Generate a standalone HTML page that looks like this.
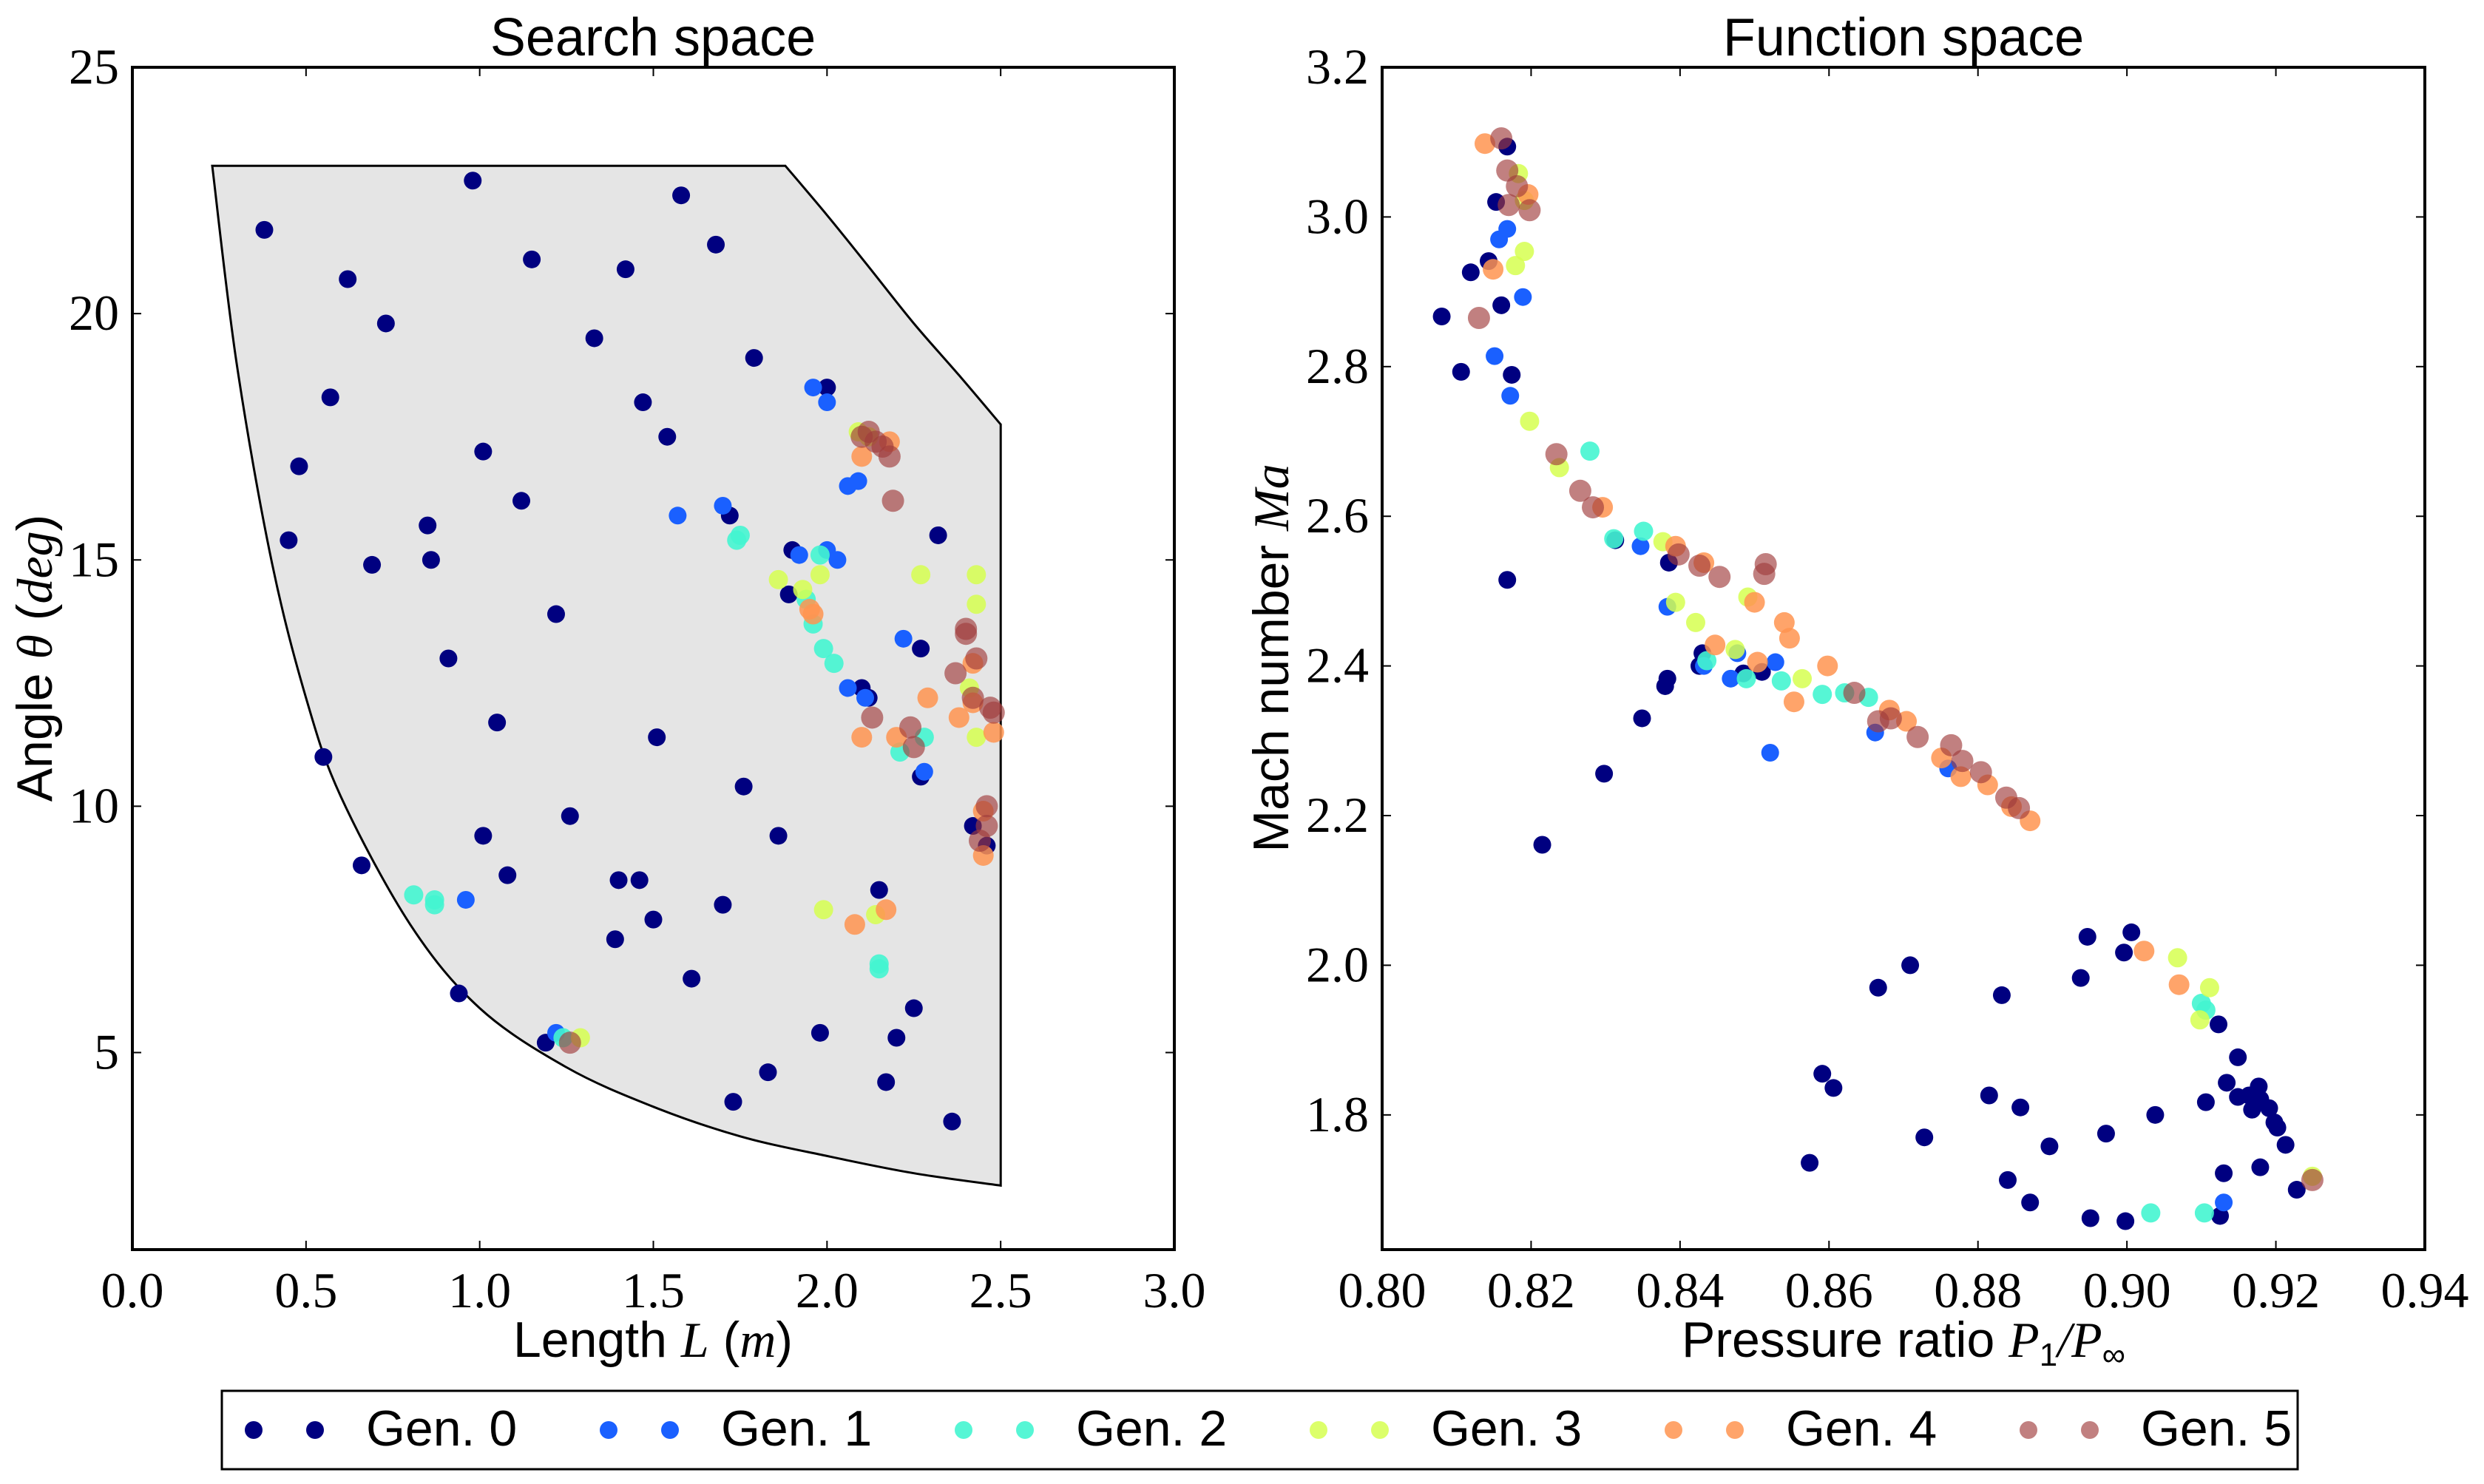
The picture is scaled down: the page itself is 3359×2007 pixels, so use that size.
<!DOCTYPE html>
<html><head><meta charset="utf-8"><style>
html,body{margin:0;padding:0;background:#fff;}
svg{display:block;}
.tk{font-family:"Liberation Serif",serif;font-size:68px;fill:#000;}
.lb{font-family:"Liberation Sans",sans-serif;font-size:68px;fill:#000;}
.ti{font-family:"Liberation Sans",sans-serif;font-size:72px;fill:#000;}
.mi{font-family:"Liberation Serif",serif;font-style:italic;}
</style></head><body>
<svg id="chart" width="3359" height="2007" viewBox="0 0 3359 2007" xmlns="http://www.w3.org/2000/svg">
<g id="plots"></g>
<text class="ti" x="883" y="75" text-anchor="middle">Search space</text>
<text class="ti" x="2574" y="75" text-anchor="middle">Function space</text>
<text class="lb" x="883" y="1835" text-anchor="middle">Length <tspan class="mi">L</tspan> (<tspan class="mi">m</tspan>)</text>
<text class="lb" x="2574" y="1835" text-anchor="middle">Pressure ratio <tspan class="mi">P</tspan><tspan font-size="44" dy="12">1</tspan><tspan dy="-12" class="mi">/P</tspan><tspan font-size="44" dy="12">∞</tspan></text>
<text class="lb" transform="translate(70,890) rotate(-90)" text-anchor="middle">Angle <tspan class="mi">θ</tspan> (<tspan class="mi">deg</tspan>)</text>
<text class="lb" transform="translate(1742,890) rotate(-90)" text-anchor="middle">Mach number <tspan class="mi">Ma</tspan></text>
<g id="legend"></g>
</svg>
<script>
// ---- data ----
const genNames = ["Gen. 0","Gen. 1","Gen. 2","Gen. 3","Gen. 4","Gen. 5"];
const xTicksL = ["0.0","0.5","1.0","1.5","2.0","2.5","3.0"];
const xTickValsL = [0,0.5,1,1.5,2,2.5,3];
const yTickValsL = [5,10,15,20,25];
const yTicksL = ["5","10","15","20","25"];
const xTickValsR = [0.80,0.82,0.84,0.86,0.88,0.90,0.92,0.94];
const xTicksR = ["0.80","0.82","0.84","0.86","0.88","0.90","0.92","0.94"];
const yTickValsR = [1.8,2.0,2.2,2.4,2.6,2.8,3.0,3.2];
const yTicksR = ["1.8","2.0","2.2","2.4","2.6","2.8","3.0","3.2"];
// feasible region boundary: top-right curve, bottom/left curve
const topCurveL = [1.88,2.0,2.12,2.25,2.38,2.5];
const topCurveT = [23,22.0,20.95,19.8,18.75,17.75];
const lowCurveL = [2.5,2.25,2.0,1.75,1.5,1.25,1.0,0.8,0.6,0.5,0.4,0.3,0.23];
const lowCurveT = [2.3,2.55,2.9,3.3,3.9,4.7,5.9,7.6,10.2,12.2,15,19,23];
// search space: [L, theta]
const search0 = [[0.38,21.7],[0.98,22.7],[1.58,22.4],[0.62,20.7],[0.73,19.8],[1.15,21.1],[1.42,20.9],[1.68,21.4],[0.57,18.3],[1.33,19.5],[1.79,19.1],[0.48,16.9],[1.47,18.2],[1.54,17.5],[1.01,17.2],[1.12,16.2],[0.45,15.4],[0.85,15.7],[0.69,14.9],[0.86,15.0],[1.72,15.9],[2.0,18.5],[1.22,13.9],[0.91,13.0],[1.90,15.2],[1.05,11.7],[0.55,11.0],[1.51,11.4],[1.76,10.4],[2.27,13.2],[2.32,15.5],[2.10,12.4],[1.01,9.4],[1.26,9.8],[0.66,8.8],[1.86,9.4],[1.08,8.6],[1.40,8.5],[1.46,8.5],[1.70,8.0],[1.50,7.7],[2.15,8.3],[1.39,7.3],[1.61,6.5],[0.94,6.2],[2.25,5.9],[1.98,5.4],[2.20,5.3],[1.19,5.2],[1.83,4.6],[2.17,4.4],[1.73,4.0],[2.36,3.6],[1.89,14.3],[2.27,10.6],[2.12,12.2],[2.42,9.6],[2.46,9.2]];
const search1 = [[1.96,18.5],[2.0,18.2],[2.06,16.5],[2.09,16.6],[1.70,16.1],[1.57,15.9],[2.0,15.2],[2.03,15.0],[2.22,13.4],[2.06,12.4],[2.11,12.2],[2.28,10.7],[0.96,8.1],[1.92,15.1],[1.22,5.4]];
const search2 = [[1.75,15.5],[1.74,15.4],[1.98,15.1],[1.94,14.2],[1.99,13.2],[2.02,12.9],[2.21,11.1],[2.28,11.4],[0.81,8.2],[0.87,8.1],[0.87,8.0],[2.15,6.8],[2.15,6.7],[1.24,5.3],[1.96,13.7]];
const search3 = [[1.86,14.6],[1.93,14.4],[2.09,17.6],[2.27,14.7],[2.43,14.7],[2.43,14.1],[1.98,14.7],[1.99,7.9],[2.14,7.8],[2.43,11.4],[1.29,5.3],[2.41,12.4],[2.12,17.5]];
const search4 = [[2.08,7.6],[2.17,7.9],[1.95,14.0],[1.96,13.9],[2.10,11.4],[2.20,11.4],[2.29,12.2],[2.38,11.8],[2.48,11.5],[2.45,9.9],[2.45,9.0],[2.18,17.4],[2.10,17.1],[2.42,12.9],[2.42,12.1]];
const search5 = [[2.12,17.6],[2.14,17.4],[2.16,17.3],[2.18,17.1],[2.19,16.2],[2.13,11.8],[2.24,11.6],[2.25,11.2],[2.40,13.5],[2.40,13.6],[2.37,12.7],[2.43,13.0],[2.42,12.2],[2.47,12.0],[2.48,11.9],[2.46,10.0],[2.46,9.6],[2.44,9.3],[1.26,5.2],[2.10,17.5]];
// function space: [P1/Pinf, Ma]
const func0 = [[0.808,2.867],[0.8106,2.793],[0.8119,2.926],[0.8143,2.941],[0.8153,3.02],[0.8168,3.094],[0.816,2.882],[0.8168,2.515],[0.8174,2.789],[0.8215,2.161],[0.8298,2.256],[0.8349,2.33],[0.838,2.373],[0.8383,2.383],[0.8385,2.538],[0.843,2.417],[0.8426,2.40],[0.8485,2.39],[0.851,2.392],[0.8313,2.568],[0.8574,1.736],[0.8591,1.855],[0.8606,1.836],[0.8666,1.97],[0.8709,2.0],[0.8728,1.77],[0.8832,1.96],[0.8815,1.826],[0.8857,1.81],[0.884,1.713],[0.887,1.683],[0.8896,1.758],[0.8947,2.038],[0.8938,1.983],[0.8972,1.775],[0.8996,2.017],[0.9006,2.044],[0.8951,1.662],[0.8998,1.658],[0.9038,1.80],[0.9106,1.817],[0.9123,1.921],[0.913,1.722],[0.9134,1.843],[0.9149,1.877],[0.9149,1.824],[0.9164,1.826],[0.9168,1.807],[0.9177,1.838],[0.9179,1.821],[0.9191,1.809],[0.9198,1.79],[0.9202,1.783],[0.9213,1.76],[0.9179,1.73],[0.9228,1.70],[0.9125,1.665]];
const func1 = [[0.8151,2.814],[0.8157,2.97],[0.8168,2.984],[0.8172,2.761],[0.8189,2.893],[0.8347,2.56],[0.8383,2.479],[0.8432,2.40],[0.8468,2.383],[0.8521,2.284],[0.8662,2.311],[0.876,2.263],[0.913,1.683],[0.8477,2.417],[0.8528,2.405]];
const func2 = [[0.8311,2.57],[0.8351,2.58],[0.8436,2.407],[0.8489,2.383],[0.8621,2.364],[0.8653,2.358],[0.91,1.949],[0.9106,1.94],[0.9032,1.669],[0.9104,1.669],[0.8279,2.687],[0.8591,2.362],[0.8536,2.38]];
const func3 = [[0.8183,3.058],[0.8179,2.935],[0.8191,2.954],[0.8198,2.727],[0.8238,2.665],[0.8377,2.566],[0.8394,2.485],[0.8421,2.458],[0.8474,2.422],[0.8491,2.492],[0.8564,2.383],[0.9068,2.01],[0.9111,1.97],[0.9098,1.927],[0.9249,1.718],[0.8191,3.022]];
const func4 = [[0.8138,3.098],[0.8149,2.93],[0.8196,3.03],[0.8296,2.612],[0.8394,2.56],[0.8432,2.538],[0.85,2.485],[0.854,2.458],[0.8547,2.437],[0.8553,2.352],[0.8598,2.40],[0.8681,2.341],[0.8704,2.326],[0.8751,2.277],[0.8777,2.252],[0.8813,2.241],[0.8845,2.212],[0.887,2.193],[0.9023,2.019],[0.907,1.974],[0.8447,2.428],[0.8504,2.405]];
const func5 = [[0.816,3.105],[0.8168,3.062],[0.817,3.016],[0.8181,3.041],[0.8198,3.009],[0.813,2.865],[0.8234,2.683],[0.8266,2.634],[0.8283,2.612],[0.8398,2.549],[0.8426,2.534],[0.8453,2.519],[0.8515,2.536],[0.8513,2.523],[0.8634,2.364],[0.8666,2.326],[0.8683,2.33],[0.8719,2.305],[0.8764,2.294],[0.8779,2.273],[0.8804,2.258],[0.8838,2.224],[0.8855,2.21],[0.9249,1.713]];

// ---- styles ----
const colors = ["#000080","#1a60ff","#44f5d0","#d6ff50","#ff9450","#a03c3c"];
const alphas = [1,1,0.9,0.85,0.85,0.65];
const radii = [12,12,13,13,14,15];
const NS = "http://www.w3.org/2000/svg";
const plots = document.getElementById('plots');
function mk(tag, attrs, parent){const e=document.createElementNS(NS,tag);for(const k in attrs)e.setAttribute(k,attrs[k]);(parent||plots).appendChild(e);return e;}
function scale(d0,d1,r0,r1){return v=>r0+(v-d0)/(d1-d0)*(r1-r0);}

const L = {x0:179,x1:1588,y0:91,y1:1690};
const R = {x0:1869,x1:3279,y0:91,y1:1690};
const lx = scale(0,3,L.x0,L.x1), ly = scale(1,25,L.y1,L.y0);
const rx = scale(0.80,0.94,R.x0,R.x1), ry = scale(1.62,3.2,R.y1,R.y0);

// smooth catmull-rom path through points (continuing existing path)
function spline(px, py){
  let s = "";
  for(let i=0;i<px.length-1;i++){
    const p0=[px[Math.max(i-1,0)],py[Math.max(i-1,0)]], p1=[px[i],py[i]], p2=[px[i+1],py[i+1]], p3=[px[Math.min(i+2,px.length-1)],py[Math.min(i+2,px.length-1)]];
    const c1=[p1[0]+(p2[0]-p0[0])/6, p1[1]+(p2[1]-p0[1])/6];
    const c2=[p2[0]-(p3[0]-p1[0])/6, p2[1]-(p3[1]-p1[1])/6];
    s += "C"+c1[0].toFixed(1)+","+c1[1].toFixed(1)+" "+c2[0].toFixed(1)+","+c2[1].toFixed(1)+" "+p2[0].toFixed(1)+","+p2[1].toFixed(1);
  }
  return s;
}
const tX = topCurveL.map(lx), tY = topCurveT.map(ly);
const bX = lowCurveL.map(lx), bY = lowCurveT.map(ly);
let d = "M"+bX[bX.length-1].toFixed(1)+","+bY[bY.length-1].toFixed(1)+"L"+tX[0].toFixed(1)+","+tY[0].toFixed(1);
d += spline(tX,tY);
d += "L"+bX[0].toFixed(1)+","+bY[0].toFixed(1);
d += spline(bX,bY);
const reg = mk('path',{d:d+"Z",fill:"#e5e5e5",stroke:"#000","stroke-width":3});



function axes(b, xs, ys, xv, xl, yv, yl, name){
  const g = mk('g',{});
  
  
  xv.forEach((v,i)=>{
    const X = xs(v);
    mk('line',{x1:X,x2:X,y1:b.y1,y2:b.y1-12,stroke:"#000","stroke-width":2},g);
    mk('line',{x1:X,x2:X,y1:b.y0,y2:b.y0+12,stroke:"#000","stroke-width":2},g);
    const t = mk('text',{x:X,y:b.y1+78,"text-anchor":"middle",class:"tk"},g);
    t.textContent = xl[i];
    
    
  });
  yv.forEach((v,i)=>{
    const Y = ys(v);
    mk('line',{x1:b.x0,x2:b.x0+12,y1:Y,y2:Y,stroke:"#000","stroke-width":2},g);
    mk('line',{x1:b.x1,x2:b.x1-12,y1:Y,y2:Y,stroke:"#000","stroke-width":2},g);
    const t = mk('text',{x:b.x0-18,y:Y+22,"text-anchor":"end",class:"tk"},g);
    t.textContent = yl[i];
    
    
  });
  return g;
}
function scatter(sets, xs, ys, name){
  sets.forEach((pts,gi)=>{
    const g = mk('g',{});
    
    
    pts.forEach(p=>{
      const c = mk('circle',{cx:xs(p[0]),cy:ys(p[1]),r:radii[gi],fill:colors[gi],"fill-opacity":alphas[gi]},g);
      
      
    });
  });
}
scatter([search0,search1,search2,search3,search4,search5], lx, ly, 'search');
scatter([func0,func1,func2,func3,func4,func5], rx, ry, 'function');
axes(L, lx, ly, xTickValsL, xTicksL, yTickValsL, yTicksL, 'left');
axes(R, rx, ry, xTickValsR, xTicksR, yTickValsR, yTicksR, 'right');
[L,R].forEach((b,i)=>{
  const f = mk('rect',{x:b.x0,y:b.y0,width:b.x1-b.x0,height:b.y1-b.y0,fill:"none",stroke:"#000","stroke-width":4});
  
  
});

// legend
const lg = document.getElementById('legend');
const lb = mk('rect',{x:300,y:1881,width:2807,height:106,fill:"#fff",stroke:"#000","stroke-width":3},lg);


genNames.forEach((n,i)=>{
  const x0 = 343 + i*480;
  const g = mk('g',{},lg);
  
  
  mk('circle',{cx:x0,cy:1934,r:12,fill:colors[i],"fill-opacity":alphas[i]},g);
  mk('circle',{cx:x0+83,cy:1934,r:12,fill:colors[i],"fill-opacity":alphas[i]},g);
  const t = mk('text',{x:x0+152,y:1955,class:"lb","font-size":"58"},g);
  t.textContent = n;
});
</script>
</body></html>
